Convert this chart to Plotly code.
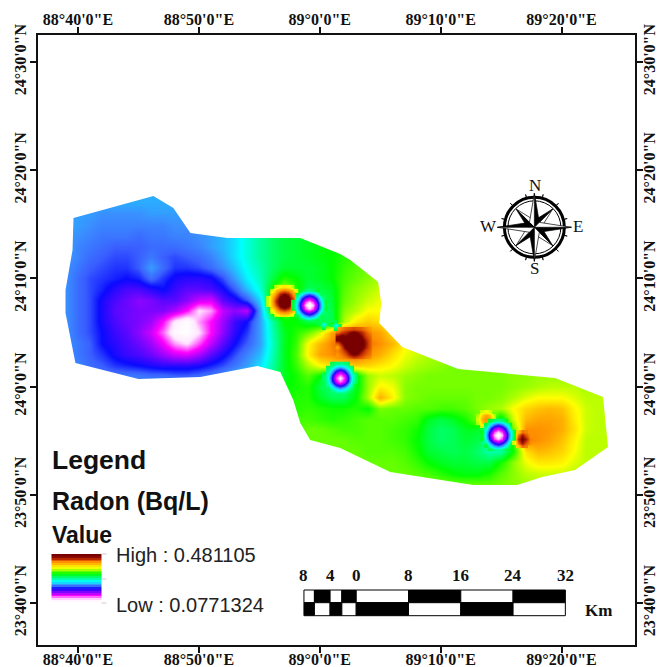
import math
import numpy as np
import plotly.graph_objects as go

LOW = 0.0771324
HIGH = 0.481105
N = None

# grid: arc-minutes east of 88d00' and north of 23d00'
grid_lon = list(range(38, 86))
grid_lat = list(range(78, 49, -1))

# radon level, percent of the Low..High stretch
radon_pct = [
 [39,39,39,39,39,39,39,39,39,39,39,39, 38,40,42,44,47,50,53,56,58,59,60,61, 62,64,66,68,70,70,70,70,70,70,70,70, 70,70,70,70,70,70,70,70,70,70,70,70],
 [39,39,39,39,39,39,39,39,39,39,39,39, 38,40,42,44,47,50,53,56,58,59,60,61, 62,64,66,68,70,70,70,70,70,70,70,70, 70,70,70,70,70,70,70,70,70,70,70,70],
 [38,38,38,38,37,37,37,37,38,38,38,38, 38,40,42,45,48,51,54,56,58,59,60,61, 62,64,66,68,70,70,70,70,70,70,70,70, 70,70,70,70,70,70,70,70,70,70,70,70],
 [38,38,38,37,36,36,36,36,36,36,37,37, 37,39,41,44,47,51,54,56,57,58,59,60, 62,64,66,68,70,70,70,70,70,70,70,70, 70,70,70,70,70,70,70,70,70,70,70,70],
 [38,38,37,36,35,35,35,34,35,35,36,36, 37,38,40,43,47,51,54,56,57,58,59,60, 61,63,65,67,70,70,70,70,70,70,70,70, 70,70,70,70,70,70,70,70,70,70,70,70],
 [38,38,36,35,34,33,33,33,34,34,34,35, 36,38,40,43,47,51,54,56,57,58,59,60, 61,62,64,66,68,70,70,70,70,70,70,70, 70,70,70,70,70,70,70,70,70,70,70,70],
 [38,38,36,34,33,32,32,33,35,33,32,33, 34,36,39,43,47,51,54,56,57,58,59,60, 62,63,64,66,68,70,70,70,70,70,70,70, 70,70,70,70,70,70,70,70,70,70,70,70],
 [37,37,35,33,32,31,31,33,38,34,31,31, 32,34,37,41,46,50,54,57,57,57,58,60, 63,65,66,68,70,70,70,70,70,70,70,70, 70,70,70,70,70,70,70,70,70,70,70,70],
 [37,37,34,32,31,30,29,30,34,31,28,27, 27,28,32,38,44,49,56,62,60,57,58,60, 64,66,68,70,72,72,72,72,72,72,72,72, 72,72,72,72,72,72,72,72,72,72,72,72],
 [37,37,34,32,30,27,25,25,27,29,26,24, 24,25,28,33,40,47,60,70,62,55,56,58, 65,68,70,72,75,75,75,75,75,75,75,75, 75,75,75,75,75,75,75,75,75,75,75,75],
 [37,37,34,32,28,25,23,21,22,24,24,21, 17,16,24,27,32,42,62,72,60,48,52,57, 66,69,72,74,76,76,76,76,76,76,76,76, 76,76,76,76,76,76,76,76,76,76,76,76],
 [37,37,34,32,28,24,23,22,22,22,19,14,  5, 8,18,21,18,38,60,66,58,48,52,56, 68,71,75,75,77,77,77,77,77,77,77,77, 77,77,77,77,77,77,77,77,77,77,77,77],
 [37,37,34,32,28,25,23,22,20,14, 4, 0,  8,14,20,26,29,38,50,60,60,56,55,55, 70,77,80,78,76,76,76,76,76,76,76,76, 76,76,76,76,76,76,76,76,76,76,76,76],
 [37,37,34,32,29,26,24,21,17,10, 1, 0,  5,14,21,27,31,38,49,58,62,66,72,84, 88,89,86,84,78,76,75,75,75,75,75,75, 75,75,75,75,75,75,75,75,75,75,75,75],
 [37,37,35,33,29,27,25,23,20,15, 8, 5, 11,18,24,29,33,38,48,58,63,75,82,87, 90,90,88,86,82,76,73,72,72,72,72,72, 72,72,72,72,72,72,72,72,72,72,72,72],
 [37,37,35,33,31,28,26,25,23,20,17,16, 19,24,28,32,36,40,49,58,64,76,84,86, 90,91,86,83,78,74,72,70,70,70,70,70, 70,70,70,70,70,70,70,70,70,70,70,70],
 [37,37,36,34,33,31,30,29,28,27,27,27, 28,30,32,35,38,43,50,58,63,70,75,78, 78,80,79,77,75,72,70,69,68,67,67,67, 67,67,68,68,69,69,69,69,69,69,69,69],
 [37,37,37,36,35,35,35,35,34,34,33,33, 34,35,37,40,44,48,52,58,61,65,60,50, 50,58,69,72,71,69,68,67,67,67,67,67, 67,67,68,68,69,69,69,69,69,69,69,69],
 [37,37,37,37,37,37,37,37,37,37,37,37, 33,35,37,40,44,48,53,60,61,62,56,52, 52,58,69,76,74,68,67,67,67,67,67,67, 67,67,68,69,70,71,71,71,70,70,70,70],
 [37,37,37,37,37,37,37,37,37,37,37,37, 33,35,37,40,44,48,55,60,62,62,58,55, 55,60,70,83,76,68,67,66,66,66,66,67, 67,68,70,73,75,75,75,73,71,71,71,71],
 [37,37,37,37,37,37,37,37,37,37,37,37, 33,35,37,40,44,48,55,60,62,63,62,61, 61,62,60,67,66,66,65,65,64,64,65,67, 69,70,75,79,81,82,81,76,72,71,71,71],
 [37,37,37,37,37,37,37,37,37,37,37,37, 33,35,37,40,44,48,55,60,64,64,63,62, 63,64,65,65,65,64,63,58,56,58,61,66, 68,56,72,82,84,84,83,77,72,71,71,71],
 [37,37,37,37,37,37,37,37,37,37,37,37, 33,35,37,40,44,48,55,60,64,66,66,65, 64,64,65,65,64,63,61,56,54,55,58,58, 50,50,65,86,86,85,83,78,72,71,71,71],
 [37,37,37,37,37,37,37,37,37,37,37,37, 33,35,37,40,44,48,55,60,64,66,66,66, 66,65,65,65,64,63,60,56,54,55,57,56, 50,50,62,87,86,84,81,76,71,71,71,71],
 [37,37,37,37,37,37,37,37,37,37,37,37, 33,35,37,40,44,48,55,60,64,66,66,66, 66,66,65,65,65,64,61,57,56,55,56,54, 50,50,60,78,82,81,79,75,71,71,71,71],
 [37,37,37,37,37,37,37,37,37,37,37,37, 33,35,37,40,44,48,55,60,64,66,66,66, 66,66,66,66,66,65,63,60,58,57,57,56, 56,61,68,74,77,77,76,73,71,71,71,71],
 [37,37,37,37,37,37,37,37,37,37,37,37, 33,35,37,40,44,48,55,60,64,66,66,66, 66,66,66,66,66,66,65,64,62,60,59,59, 61,65,68,71,72,72,72,71,71,71,71,71],
 [37,37,37,37,37,37,37,37,37,37,37,37, 33,35,37,40,44,48,55,60,64,66,66,66, 66,66,66,66,67,67,67,67,67,66,66,66, 66,67,68,69,70,70,70,70,70,70,70,70],
 [37,37,37,37,37,37,37,37,37,37,37,37, 33,35,37,40,44,48,55,60,64,66,66,66, 66,66,66,66,67,67,67,67,67,66,66,66, 66,67,68,69,70,70,70,70,70,70,70,70],
]

# finer readings around the sharp local extremes (third-of-a-minute spacing)
spot_a_lon, spot_a_lat = 59.13, 67.54
spot_a = [[N,N,58,54,52,54,58,N,N],[N,57,47,38,34,38,47,57,N],[N,50,34,23,18,23,34,50,N],[58,43,26,12,6,12,26,43,58],[57,41,22,7,0,7,22,41,57],[58,43,26,12,6,12,26,43,58],[N,50,34,23,18,23,34,50,N],[N,57,47,38,34,38,47,57,N],[N,N,58,54,52,54,58,N,N]]
spot_b_lon, spot_b_lat = 57.07, 67.90
spot_b = [[N,N,71,76,77,76,71,N,N],[N,72,81,85,87,85,81,72,N],[N,79,87,95,98,95,87,79,N],[71,83,92,100,100,100,92,83,71],[72,84,95,100,100,100,95,84,72],[71,83,92,100,100,100,92,83,71],[N,79,87,95,98,95,87,79,N],[N,72,81,85,87,85,81,72,N],[N,N,71,76,77,76,71,N,N]]
spot_c_lon, spot_c_lat = 61.69, 60.80
spot_c = [[N,N,55,53,52,53,55,N,N],[N,55,50,44,40,44,50,55,N],[N,51,40,28,22,28,40,51,N],[55,48,31,16,10,16,31,48,55],[54,46,27,12,3,12,27,46,54],[55,48,31,16,10,16,31,48,55],[N,51,40,28,22,28,40,51,N],[N,55,50,44,40,44,50,55,N],[N,N,55,53,52,53,55,N,N]]
spot_d_lon, spot_d_lat = 74.75, 55.53
spot_d = [[N,N,58,54,52,54,58,N,N],[N,57,47,38,34,38,47,57,N],[N,50,34,23,18,23,34,50,N],[58,43,26,12,6,12,26,43,58],[57,41,22,7,0,7,22,41,57],[58,43,26,12,6,12,26,43,58],[N,50,34,23,18,23,34,50,N],[N,57,47,38,34,38,47,57,N],[N,N,58,54,52,54,58,N,N]]
spot_e_lon, spot_e_lat = 73.76, 57.00
spot_e = [[N,72,75,72,N],[70,80,84,80,70],[73,83,86,83,73],[70,80,84,80,70],[N,72,75,72,N]]
spot_f_lon, spot_f_lat = 76.73, 55.15
spot_f = [[N,80,88,87,N],[72,88,96,90,86],[74,93,99,95,87],[72,88,96,90,86],[N,80,88,87,N]]
spot_h_lon, spot_h_lat = 62.81, 64.00
spot_h = [[84,87,89,90,91,90,89,87,85],[88,92,94,97,99,97,94,90,87],[97,100,98,100,100,100,97,92,89],[98,100,100,100,100,100,100,95,90],[90,97,100,100,100,100,100,96,90],[84,92,100,100,100,100,100,95,90],[87,90,95,100,100,100,97,92,89],[86,88,91,96,99,97,93,90,88],[85,86,87,89,91,90,89,87,86]]
spot_i_lon, spot_i_lat = 60.33, 65.74
spot_i = [[N,56,N],[56,44,56],[N,56,N]]
spot_j_lon, spot_j_lat = 61.33, 65.65
spot_j = [[N,56,N],[56,44,56],[N,56,N]]
spots = [(spot_b_lon, spot_b_lat, spot_b), (spot_a_lon, spot_a_lat, spot_a), (spot_c_lon, spot_c_lat, spot_c),
         (spot_e_lon, spot_e_lat, spot_e), (spot_f_lon, spot_f_lat, spot_f), (spot_d_lon, spot_d_lat, spot_d),
         (spot_h_lon, spot_h_lat, spot_h), (spot_i_lon, spot_i_lat, spot_i), (spot_j_lon, spot_j_lat, spot_j)]

boundary_lon = [39.63,46.24,47.89,49.30,52.36,58.39,61.69,62.52,64.83,65.08,64.92,66.82,71.45,79.46,83.43,83.84,81.12,78.39,76.33,72.69,65.83,61.69,59.21,58.39,57.81,56.74,54.83,50.12,45.00,39.79,38.97,38.97,39.55]
boundary_lat = [75.58,77.62,76.51,74.20,73.73,73.73,72.26,71.70,69.67,67.73,65.88,63.66,61.63,60.79,59.04,54.42,52.29,51.65,50.91,50.91,52.11,54.33,55.06,56.64,58.76,61.35,61.90,60.89,60.70,62.18,66.80,68.93,72.62]

x_ticks = [40, 50, 60, 70, 80]
x_labels = ['88°40\'0"E', '88°50\'0"E', '89°0\'0"E', '89°10\'0"E', '89°20\'0"E']
y_ticks = [90, 80, 70, 60, 50, 40]
y_labels = ['24°30\'0"N', '24°20\'0"N', '24°10\'0"N', '24°0\'0"N', '23°50\'0"N', '23°40\'0"N']

legend_levels = [100,97,94,90,86,82,78,74,70,66,62,58,54,50,46,42,38,34,30,26,22,18,14,10,6,2]
scale_labels = ['8', '4', '0', '8', '16', '24', '32']
scale_km = [-8, -4, 0, 8, 16, 24, 32]
scale_cuts = [-8, -6.4, -4, -2.2, 0, 8, 16, 24, 32]

colorscale = [[0,'#ffffff'],[0.05,'#ffe8ff'],[0.14,'#ff00ff'],[0.29,'#0a0aff'],[0.33,'#3a60ff'],[0.37,'#3a90ff'],[0.45,'#00ffff'],
              [0.60,'#00ff00'],[0.75,'#ffff00'],[0.86,'#ff9000'],[0.93,'#c83000'],[0.98,'#780000'],[1,'#780000']]

W, H = 661, 667
L, R, T, B = 37.5, 635, 35, 645
XR = [40 + (L - 77.5) / 12.1, 40 + (R - 77.5) / 12.1]
YR = [90 - (B - 62) / 10.82, 90 - (T - 62) / 10.82]

def px(x): return (x - L) / (R - L)
def py(y): return (B - y) / (B - T)
def to_value(p): return LOW + (HIGH - LOW) * np.array(p, dtype=float) / 100

fig = go.Figure()
fig.add_trace(go.Heatmap(x=grid_lon, y=grid_lat, z=to_value(radon_pct), colorscale=colorscale,
                         zmin=LOW, zmax=HIGH, zsmooth='best', showscale=False, hoverinfo='skip'))
for lon, lat, cells in spots:
    half = (len(cells) - 1) / 2
    xs = [lon + (i - half) / 3 for i in range(len(cells))]
    ys = [lat + (half - i) / 3 for i in range(len(cells))]
    fig.add_trace(go.Heatmap(x=xs, y=ys, z=to_value(np.array(cells, dtype=float)), colorscale=colorscale,
                             zmin=LOW, zmax=HIGH, zsmooth='best', showscale=False, hoverinfo='skip'))

# legend ramp
lx0, lx1 = 40 + (51 - 77.5) / 12.1, 40 + (101 - 77.5) / 12.1
ly0, ly1 = 90 - (554 - 62) / 10.82, 90 - (602 - 62) / 10.82
fig.add_trace(go.Heatmap(x=[lx0, lx1], y=np.linspace(ly0, ly1, len(legend_levels) + 1),
                         z=to_value([[v] for v in legend_levels]), colorscale=colorscale,
                         zmin=LOW, zmax=HIGH, showscale=False, hoverinfo='skip'))
# holder so that the top and right axes are drawn
fig.add_trace(go.Scatter(x=[XR[0]], y=[YR[0]], xaxis='x2', yaxis='y2', mode='markers',
                         marker=dict(opacity=0), hoverinfo='skip', showlegend=False))

shapes = []
# mask outside the study area
outer = f"M{grid_lon[0]-.6},{grid_lat[-1]-.6} L{grid_lon[-1]+.6},{grid_lat[-1]-.6} L{grid_lon[-1]+.6},{grid_lat[0]+.6} L{grid_lon[0]-.6},{grid_lat[0]+.6} Z"
inner = "M" + " L".join(f"{a},{b}" for a, b in zip(boundary_lon, boundary_lat)) + " Z"
shapes.append(dict(type='path', path=outer + " " + inner, xref='x', yref='y', fillcolor='white',
                   fillrule='evenodd', line=dict(width=0), layer='above'))

# compass
cx, cy = 534.3, 227.3
def P(r, deg):
    a = math.radians(deg)
    return cx + r * math.sin(a), cy - r * math.cos(a)
def poly(points, fill, lw=0.7):
    path = "M" + " L".join(f"{px(a):.5f},{py(b):.5f}" for a, b in points) + " Z"
    shapes.append(dict(type='path', path=path, xref='paper', yref='paper', fillcolor=fill,
                       line=dict(color='black', width=lw), layer='above'))
def circle(r, lw, color='black'):
    shapes.append(dict(type='circle', xref='paper', yref='paper', x0=px(cx - r), x1=px(cx + r),
                       y0=py(cy + r), y1=py(cy - r), line=dict(color=color, width=lw), layer='above'))
circle(30, 3)
circle(26.5, 1)
for d in range(0, 360, 30):
    a, b = P(31, d + 15), P(34, d + 15)
    poly([a, b], 'black', 0.8)
for d in (45, 135, 225, 315):
    poly([(cx, cy), P(26, d), P(7, d + 45)], 'white')
    poly([(cx, cy), P(26, d), P(7, d - 45)], 'black')
for d, r in ((0, 34), (90, 37), (180, 34), (270, 37)):
    poly([(cx, cy), P(r, d), P(7, d + 45)], 'black')
    poly([(cx, cy), P(r, d), P(7, d - 45)], 'white')

# scale bar
def km_x(k): return 356 + k * (565.3 - 356) / 32
sy0, sy1, sy2 = 590, 602.7, 615.7
for i in range(len(scale_cuts) - 1):
    a, b = km_x(scale_cuts[i]), km_x(scale_cuts[i + 1])
    top_black = i % 2 == 1
    shapes.append(dict(type='rect', xref='paper', yref='paper', x0=px(a), x1=px(b), y0=py(sy1), y1=py(sy0),
                       fillcolor='black' if top_black else 'white', line=dict(color='black', width=1), layer='above'))
    shapes.append(dict(type='rect', xref='paper', yref='paper', x0=px(a), x1=px(b), y0=py(sy2), y1=py(sy1),
                       fillcolor='white' if top_black else 'black', line=dict(color='black', width=1), layer='above'))
# legend ramp ticks
for yy in (554, 579, 603):
    shapes.append(dict(type='line', xref='paper', yref='paper', x0=px(101), x1=px(106), y0=py(yy), y1=py(yy),
                       line=dict(color='#cccccc', width=1), layer='above'))

ann = []
def text(s, x, y, size, family, anchor='left', bold=True, color='#111111'):
    ann.append(dict(text=f"<b>{s}</b>" if bold else s, x=px(x), y=py(y), xref='paper', yref='paper',
                    showarrow=False, xanchor=anchor, yanchor='middle',
                    font=dict(size=size, family=family, color=color)))
SANS = 'Liberation Sans'
SERIF = 'Liberation Serif'
text('Legend', 50, 460, 26.5, SANS)
text('Radon (Bq/L)', 50, 501, 25, SANS)
text('Value', 50, 535, 23, SANS)
text('High : 0.481105', 114, 555, 20, SANS, bold=False, color='#222222')
text('Low : 0.0771324', 114, 605, 20, SANS, bold=False, color='#222222')
for s, k in zip(scale_labels, scale_km):
    text(s, km_x(k), 575, 17, SERIF, 'center')
text('Km', 598, 610, 17, SERIF, 'center')
text('N', 534.5, 185, 17, SERIF, 'center', bold=False)
text('S', 534.5, 268, 17, SERIF, 'center', bold=False)
text('W', 488, 227, 17, SERIF, 'center', bold=False)
text('E', 578, 227, 17, SERIF, 'center', bold=False)

x_text = [f"<b>{s}</b>" for s in x_labels]
y_text = [f"<b>{s}</b>" for s in y_labels]
tickfont = dict(family=SERIF, size=16, color='#111111')
common = dict(showgrid=False, zeroline=False, showline=True, linecolor='#111111', linewidth=2, automargin=False,
              ticks='outside', ticklen=6, tickwidth=1.5, tickcolor='#111111', tickfont=tickfont)
fig.update_layout(
    width=W, height=H, margin=dict(l=L, r=W - R, t=T, b=H - B), paper_bgcolor='white', plot_bgcolor='white',
    showlegend=False, shapes=shapes, annotations=ann,
    xaxis=dict(range=XR, tickmode='array', tickvals=x_ticks, ticktext=x_text, side='bottom', tickangle=0, ticklabelstandoff=-7, **common),
    yaxis=dict(range=YR, tickmode='array', tickvals=y_ticks, ticktext=y_text, side='left', tickangle=-90, ticklabelstandoff=-2, **common),
    xaxis2=dict(range=XR, tickmode='array', tickvals=x_ticks, ticktext=x_text, side='top', overlaying='x', tickangle=0, ticklabelstandoff=-4, **common),
    yaxis2=dict(range=YR, tickmode='array', tickvals=y_ticks, ticktext=y_text, side='right', overlaying='y', tickangle=-90, ticklabelstandoff=-7, **common),
)
fig.write_html("out.html", config=dict(displayModeBar=False), post_script="document.body.style.margin='0';")
